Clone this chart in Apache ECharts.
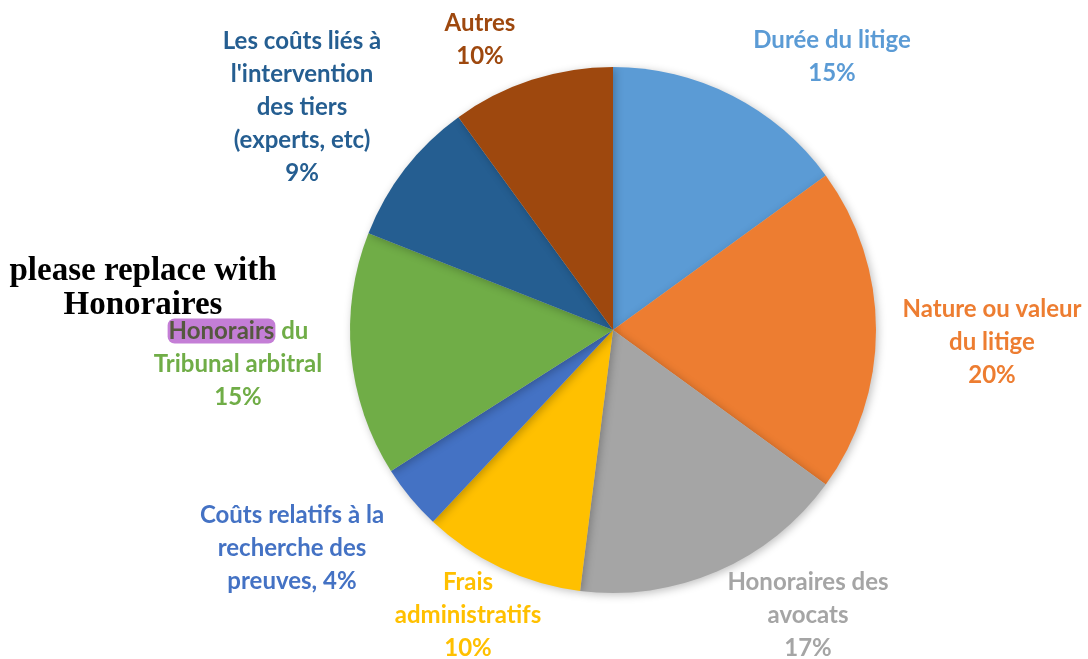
<!DOCTYPE html>
<html>
<head>
<meta charset="utf-8">
<script src="https://cdn.jsdelivr.net/npm/echarts@6/dist/echarts.min.js"></script>
<style>
  html, body { margin: 0; padding: 0; background: #fff; }
  #chart { width: 1088px; height: 659px; }
</style>
</head>
<body>
<div id="chart"></div>
<script>
// données du graphique
var categories = [
    'Durée du litige',
    'Nature ou valeur\ndu litige',
    'Honoraires des\navocats',
    'Frais\nadministratifs',
    'Coûts relatifs à la\nrecherche des\npreuves',
    'Honorairs du\nTribunal arbitral',
    'Les coûts liés à\nl\'intervention\ndes tiers\n(experts, etc)',
    'Autres'
];
var values = [15, 20, 17, 10, 4, 15, 9, 10];
var separators = ['\n', '\n', '\n', '\n', ', ', '\n', '\n', '\n'];
var colors = ['#5B9BD5', '#ED7D31', '#A5A5A5', '#FFC000', '#4472C4', '#70AD47', '#255E91', '#9E480E'];

// positions des étiquettes (centre du bloc de texte)
var labelPos = [
    [832, 57], [992, 342], [808, 615], [468, 615],
    [292, 548], [238, 364], [302, 107], [480, 40]
];

var chart = echarts.init(document.getElementById('chart'));

var pieData = categories.map(function (name, i) {
    return {
        name: name,
        value: values[i],
        itemStyle: { color: colors[i] },
        label: { color: colors[i] }
    };
});

chart.setOption({
    animation: false,
    graphic: [{
        type: 'text',
        x: 143,
        y: 254,
        style: {
            text: 'please replace with\nHonoraires',
            font: 'bold 33px "Liberation Serif"',
            fill: '#000',
            textAlign: 'center',
            textVerticalAlign: 'top',
            lineHeight: 34
        }
    }],
    series: [{
        type: 'pie',
        center: [613, 330],
        radius: 263,
        startAngle: 90,
        clockwise: true,
        data: pieData,
        itemStyle: {
            shadowBlur: 8,
            shadowColor: 'rgba(0,0,0,0.25)',
            shadowOffsetX: 2,
            shadowOffsetY: 2
        },
        labelLine: { show: false },
        label: {
            show: true,
            position: 'outside',
            overflow: 'none',
            fontFamily: 'Lato',
            fontWeight: 'bold',
            fontSize: 24,
            lineHeight: 33,
            align: 'center',
            formatter: function (p) {
                var txt = p.name.replace('Honorairs', '{hl|Honorairs}');
                return txt + separators[p.dataIndex] + p.value + '%';
            },
            rich: {
                hl: {
                    backgroundColor: '#C47ED6',
                    color: '#55583F',
                    borderRadius: 7,
                    padding: [1, 1, 0, 1],
                    fontFamily: 'Lato',
                    fontWeight: 'bold',
                    fontSize: 24,
                    lineHeight: 33
                }
            }
        },
        labelLayout: function (params) {
            var pos = labelPos[params.dataIndex];
            return {
                x: pos[0],
                y: pos[1],
                align: 'center',
                verticalAlign: 'middle',
                hideOverlap: false
            };
        }
    }]
});
</script>
</body>
</html>
